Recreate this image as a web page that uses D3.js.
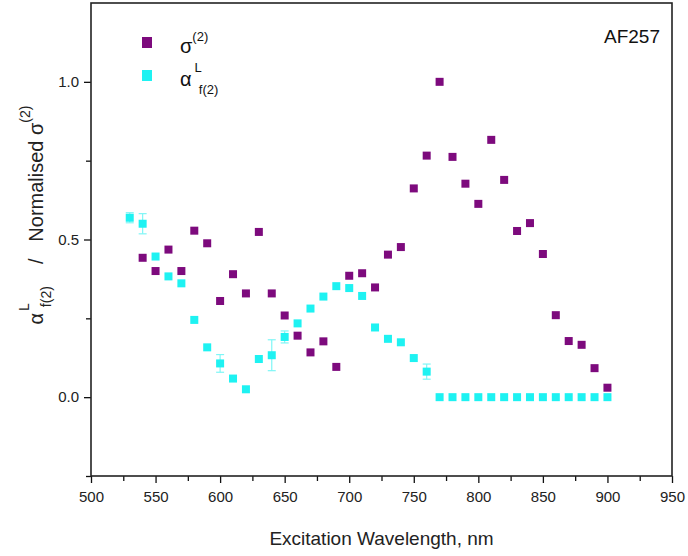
<!DOCTYPE html>
<html>
<head>
<meta charset="utf-8">
<script src="https://cdn.jsdelivr.net/npm/d3@7"></script>
<style>
  body { margin: 0; background: #fff; }
  svg { font-family: "Liberation Sans", Arial, sans-serif; }
</style>
</head>
<body>
<svg id="chart" width="688" height="556"></svg>
<script>
// wavelengths (nm)
const wavelengths = [530, 540, 550, 560, 570, 580, 590, 600, 610, 620, 630, 640, 650, 660, 670, 680, 690, 700,
  710, 720, 730, 740, 750, 760, 770, 780, 790, 800, 810, 820, 830, 840, 850, 860, 870, 880, 890, 900];

// normalised sigma(2), null = no point
const sigma = [null, 0.442, 0.40, 0.468, 0.40, 0.528, 0.488, 0.305, 0.39, 0.329, 0.524, 0.329, 0.259, 0.195,
  0.142, 0.177, 0.096, 0.385, 0.393, 0.348, 0.452, 0.476, 0.662, 0.766, 1.0, 0.762, 0.677, 0.613, 0.816,
  0.689, 0.527, 0.552, 0.454, 0.26, 0.178, 0.166, 0.092, 0.03];

// alpha L f(2)
const alpha = [0.569, 0.55, 0.446, 0.383, 0.361, 0.245, 0.158, 0.107, 0.059, 0.025, 0.121, 0.133, 0.191, 0.234,
  0.281, 0.319, 0.352, 0.346, 0.321, 0.221, 0.185, 0.174, 0.124, 0.081, 0, 0, 0, 0, 0, 0, 0, 0, 0, 0, 0, 0, 0, 0];

// error bars on alpha (0 = none drawn)
const alphaErr = [0.016, 0.032, 0, 0, 0, 0, 0, 0.028, 0, 0, 0, 0.049, 0.019, 0, 0, 0, 0, 0, 0, 0, 0, 0, 0, 0.024,
  0, 0, 0, 0, 0, 0, 0, 0, 0, 0, 0, 0, 0, 0];

const xTicks = [500, 550, 600, 650, 700, 750, 800, 850, 900, 950];
const yTicks = [0.0, 0.5, 1.0];

const purple = "#7d0a7d";
const cyan = "#1ef2f2";

const svg = d3.select("#chart");
const margin = {top: 3, right: 16, bottom: 80, left: 91};
const width = 688 - margin.left - margin.right;
const height = 556 - margin.top - margin.bottom;

const x = d3.scaleLinear().domain([500, 950]).range([margin.left, margin.left + width]);
const y = d3.scaleLinear().domain([-0.25, 1.25]).range([margin.top + height, margin.top]);

// minor ticks
const xMinor = d3.range(525, 950, 50);
const yMinor = [-0.25, 0.25, 0.75];

svg.append("g")
  .attr("transform", `translate(0,${margin.top + height})`)
  .call(d3.axisBottom(x).tickValues(xMinor).tickSize(5).tickFormat(""))
  .call(g => g.select(".domain").remove());

svg.append("g")
  .attr("transform", `translate(${margin.left},0)`)
  .call(d3.axisLeft(y).tickValues(yMinor).tickSize(5).tickFormat(""))
  .call(g => g.select(".domain").remove());

const xAxis = svg.append("g")
  .attr("transform", `translate(0,${margin.top + height})`)
  .call(d3.axisBottom(x).tickValues(xTicks).tickSize(7).tickPadding(8).tickFormat(d3.format("d")));
xAxis.selectAll("text").attr("font-size", 15).attr("fill", "#222");
xAxis.select(".domain").remove();

const yAxis = svg.append("g")
  .attr("transform", `translate(${margin.left},0)`)
  .call(d3.axisLeft(y).tickValues(yTicks).tickSize(7).tickPadding(5).tickFormat(d3.format(".1f")));
yAxis.selectAll("text").attr("font-size", 15).attr("fill", "#222");
yAxis.select(".domain").remove();

svg.selectAll(".tick line").attr("stroke", "#111").attr("stroke-width", 1.3);

// frame
svg.append("rect")
  .attr("x", margin.left).attr("y", margin.top)
  .attr("width", width).attr("height", height)
  .attr("fill", "none").attr("stroke", "#222").attr("stroke-width", 1.6);

const pts = wavelengths.map((w, i) => ({w, s: sigma[i], a: alpha[i], e: alphaErr[i]}));
const ms = 8;

// error bars
const eb = svg.append("g").attr("stroke", "#7ff6f6").attr("stroke-width", 1.2);
pts.filter(d => d.e > 0).forEach(d => {
  const cx = x(d.w);
  eb.append("line").attr("x1", cx).attr("x2", cx).attr("y1", y(d.a - d.e)).attr("y2", y(d.a + d.e));
  eb.append("line").attr("x1", cx - 4).attr("x2", cx + 4).attr("y1", y(d.a - d.e)).attr("y2", y(d.a - d.e));
  eb.append("line").attr("x1", cx - 4).attr("x2", cx + 4).attr("y1", y(d.a + d.e)).attr("y2", y(d.a + d.e));
});

svg.append("g").selectAll("rect")
  .data(pts.filter(d => d.s !== null))
  .join("rect")
  .attr("x", d => x(d.w) - ms / 2)
  .attr("y", d => y(d.s) - ms / 2)
  .attr("width", ms).attr("height", ms)
  .attr("fill", purple);

svg.append("g").selectAll("rect")
  .data(pts)
  .join("rect")
  .attr("x", d => x(d.w) - ms / 2)
  .attr("y", d => y(d.a) - ms / 2)
  .attr("width", ms).attr("height", ms)
  .attr("fill", cyan);

// legend
svg.append("rect").attr("x", 142).attr("y", 37).attr("width", 10).attr("height", 11).attr("fill", purple);
svg.append("rect").attr("x", 142).attr("y", 70).attr("width", 10).attr("height", 11).attr("fill", cyan);

const l1 = svg.append("text").attr("x", 180).attr("y", 53).attr("font-size", 20).attr("fill", "#111");
l1.append("tspan").text("σ");
l1.append("tspan").attr("dy", -12).attr("font-size", 13).text("(2)");

const l2 = svg.append("text").attr("x", 180).attr("y", 86).attr("font-size", 20).attr("fill", "#111");
l2.append("tspan").text("α");
l2.append("tspan").attr("dx", 3).attr("dy", -14).attr("font-size", 13).text("L");
l2.append("tspan").attr("dx", -3).attr("dy", 22).attr("font-size", 13).text("f(2)");

svg.append("text").attr("x", 660).attr("y", 43).attr("text-anchor", "end")
  .attr("font-size", 19).attr("fill", "#111").text("AF257");

// axis titles
svg.append("text").attr("x", margin.left + width / 2).attr("y", 545)
  .attr("text-anchor", "middle").attr("font-size", 19).attr("fill", "#222")
  .text("Excitation Wavelength, nm");

const yt = svg.append("text")
  .attr("transform", "translate(43,215) rotate(-90)")
  .attr("text-anchor", "middle").attr("font-size", 20).attr("fill", "#222");
yt.append("tspan").text("α");
yt.append("tspan").attr("dx", 2).attr("dy", -14).attr("font-size", 14).text("L");
yt.append("tspan").attr("dx", -4).attr("dy", 22).attr("font-size", 14).text("f(2)");
yt.append("tspan").attr("dy", -8).text("\u00a0\u00a0\u00a0\u00a0/\u00a0\u00a0\u00a0Normalised σ");
yt.append("tspan").attr("dy", -13).attr("font-size", 14).text("(2)");
</script>
</body>
</html>
